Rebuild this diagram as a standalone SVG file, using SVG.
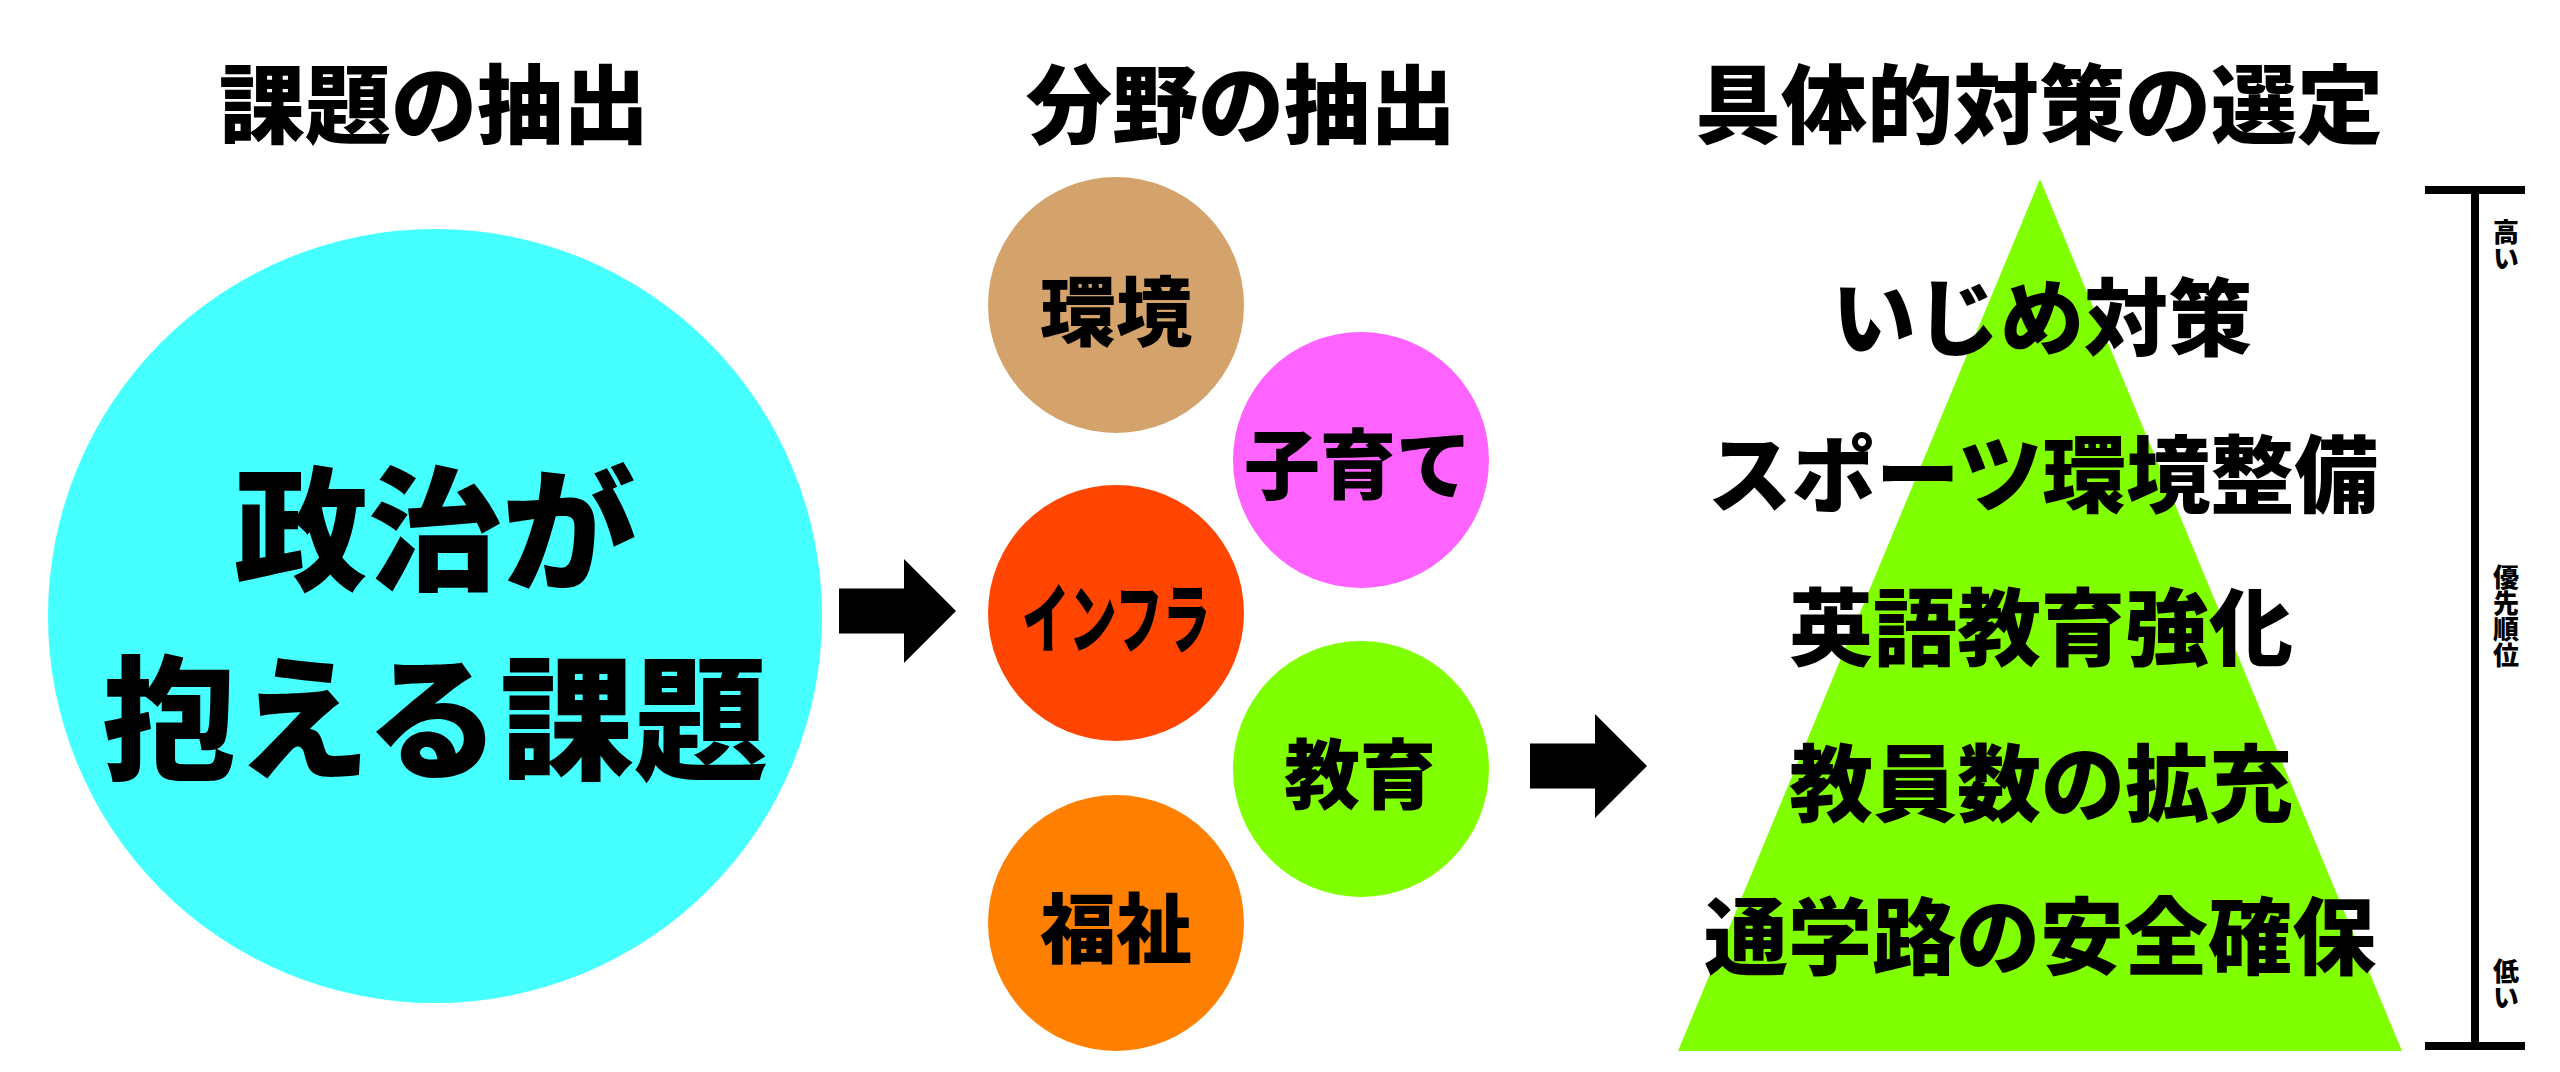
<svg xmlns="http://www.w3.org/2000/svg" width="2560" height="1072" viewBox="0 0 2560 1072">
<style>
  text { font-family: "Noto Sans CJK JP", "Noto Sans CJK SC", sans-serif; font-weight: 900; fill: #000; text-anchor: middle; dominant-baseline: central; }
  .title { font-size: 86px; }
  .big { font-size: 134px; }
  .lbl { font-size: 76px; }
  .pyr { font-size: 84px; }
  .scale { font-size: 26px; writing-mode: vertical-rl; }
  .bar { stroke: #000; stroke-width: 8; fill: none; }
</style>
<defs>
  <polygon id="arrow" points="0,-22.5 65,-22.5 65,-52 117,0 65,52 65,22.5 0,22.5" fill="#000"/>
</defs>
<rect width="2560" height="1072" fill="#fff"/>

<g id="titles">
  <text class="title" x="434" y="99">課題の抽出</text>
  <text class="title" x="1241" y="99">分野の抽出</text>
  <text class="title" x="2039" y="99">具体的対策の選定</text>
</g>

<g id="node-issue">
  <circle cx="435" cy="616" r="387" fill="#46FFFF"/>
  <text class="big" x="435" y="522">政治が</text>
  <text class="big" x="435" y="711">抱える課題</text>
</g>

<g id="node-kankyo">
  <circle cx="1116" cy="305" r="128" fill="#D4A26B"/>
  <text class="lbl" x="1116" y="307">環境</text>
</g>
<g id="node-kosodate">
  <circle cx="1361" cy="460" r="128" fill="#FF63FF"/>
  <text class="lbl" x="1358" y="460">子育て</text>
</g>
<g id="node-infra">
  <circle cx="1116" cy="613" r="128" fill="#FF4500"/>
  <text class="lbl" x="1116" y="614" textLength="188" lengthAdjust="spacingAndGlyphs">インフラ</text>
</g>
<g id="node-kyoiku">
  <circle cx="1361" cy="769" r="128" fill="#80FF00"/>
  <text class="lbl" x="1360" y="770">教育</text>
</g>
<g id="node-fukushi">
  <circle cx="1116" cy="923" r="128" fill="#FF8000"/>
  <text class="lbl" x="1116" y="924">福祉</text>
</g>

<g id="node-pyramid">
  <polygon points="2040,179 2402,1051 1678,1051" fill="#80FF00"/>
  <text class="pyr" x="2042" y="312">いじめ対策</text>
  <text class="pyr" x="2043" y="469">スポーツ環境整備</text>
  <text class="pyr" x="2041" y="622">英語教育強化</text>
  <text class="pyr" x="2041" y="778">教員数の拡充</text>
  <text class="pyr" x="2040" y="931">通学路の安全確保</text>
</g>

<g id="node-priority">
  <line class="bar" x1="2475" y1="190" x2="2475" y2="1046"/>
  <line class="bar" x1="2425" y1="190" x2="2525" y2="190" stroke-width="7"/>
  <line class="bar" x1="2425" y1="1046" x2="2525" y2="1046" stroke-width="7"/>
  <text class="scale" x="2506" y="245">高い</text>
  <text class="scale" x="2506" y="616">優先順位</text>
  <text class="scale" x="2506" y="984">低い</text>
</g>

<g id="connectors">
  <use href="#arrow" x="839" y="611"/>
  <use href="#arrow" x="1530" y="766"/>
</g>
</svg>
